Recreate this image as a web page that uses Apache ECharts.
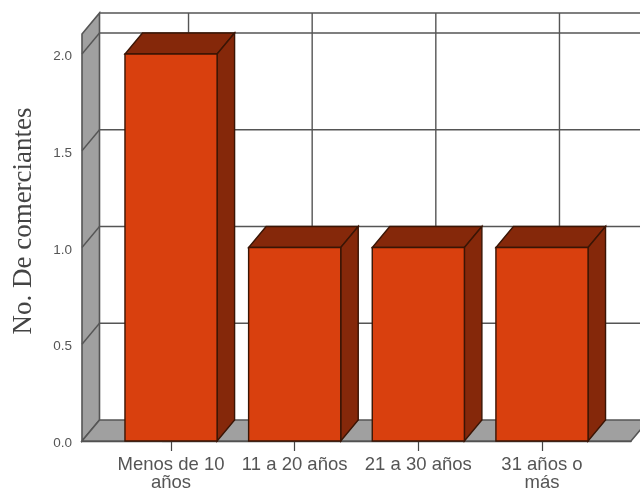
<!DOCTYPE html>
<html>
<head>
<meta charset="utf-8">
<style>html,body{margin:0;padding:0;background:#fff}#chart{width:640px;height:491px}</style>
<script src="https://cdn.jsdelivr.net/npm/echarts@6/dist/echarts.min.js"></script>
</head>
<body>
<div id="chart"></div>
<script>
const categories = ['Menos de 10\naños', '11 a 20 años', '21 a 30 años', '31 años o\nmás'];
const counts = [2, 1, 1, 1];
const yTicks = [0, 0.5, 1, 1.5, 2];
const xPositions = [0, 1, 2, 3];

// Extent of the value scale and of the category scale on the front plane
const yMax = 2.103;
const xMin = -0.72;
const xMax = 3.72;
const barWidth = 0.745;

// Screen offset of the back plane relative to the front plane
const depthX = 17.5;
const depthY = -21;

const wallLine = '#555555';
const wallFill = '#a0a0a0';
const barFront = '#d9400e';
const barShade = '#85280a';
const barEdge = '#3a1505';

function back(p) { return [p[0] + depthX, p[1] + depthY]; }

function poly(points, fill, stroke, width) {
  return { type: 'polygon', shape: { points: points },
    style: { fill: fill, stroke: stroke, lineWidth: width } };
}
function seg(a, b) {
  return { type: 'line', shape: { x1: a[0], y1: a[1], x2: b[0], y2: b[1] },
    style: { stroke: wallLine, lineWidth: 1.4, fill: null } };
}

// Back wall, side wall, floor and their grid lines
function renderFrame(params, api) {
  const bl = api.coord([xMin, 0]);
  const br = api.coord([xMax, 0]);
  const tl = api.coord([xMin, yMax]);
  const tr = api.coord([xMax, yMax]);
  const children = [
    poly([bl, back(bl), back(tl), tl], wallFill, wallLine, 1.6),
    poly([bl, br, back(br), back(bl)], wallFill, wallLine, 1.6),
    seg(back(tl), back(tr))
  ];
  yTicks.forEach(function (t) {
    if (t === 0) return;
    const a = api.coord([xMin, t]);
    const b = api.coord([xMax, t]);
    children.push(seg(a, back(a)));
    children.push(seg(back(a), back(b)));
  });
  xPositions.forEach(function (x) {
    children.push(seg(back(api.coord([x, 0])), back(api.coord([x, yMax]))));
  });
  return { type: 'group', children: children };
}

// One box per category: front face, top face and right-hand face
function renderBar(params, api) {
  const x = api.value(0);
  const v = api.value(1);
  const a = api.coord([x - barWidth / 2, 0]);
  const b = api.coord([x + barWidth / 2, 0]);
  const c = api.coord([x + barWidth / 2, v]);
  const d = api.coord([x - barWidth / 2, v]);
  return { type: 'group', children: [
    poly([d, c, back(c), back(d)], barShade, barEdge, 1.4),
    poly([b, back(b), back(c), c], barShade, barEdge, 1.4),
    poly([a, b, c, d], barFront, barEdge, 1.4)
  ] };
}

const chart = echarts.init(document.getElementById('chart'), null, { renderer: 'canvas' });
chart.setOption({
  animation: false,
  backgroundColor: '#ffffff',
  grid: { left: 82, right: 9, top: 34, bottom: 50, containLabel: false, outerBoundsMode: 'none' },
  xAxis: {
    type: 'value',
    min: xMin,
    max: xMax,
    splitLine: { show: false },
    axisLine: { show: true, onZero: false, lineStyle: { color: '#444444', width: 1.4 } },
    axisTick: { show: true, length: 10, customValues: xPositions, lineStyle: { color: '#444444', width: 1.2 } },
    axisLabel: {
      customValues: xPositions,
      formatter: function (v) { return categories[v]; },
      color: '#555555',
      fontFamily: 'Liberation Sans',
      fontSize: 18.5,
      lineHeight: 18,
      margin: 15
    }
  },
  yAxis: {
    type: 'value',
    min: 0,
    max: yMax,
    interval: 0.5,
    splitLine: { show: false },
    axisLine: { show: true, lineStyle: { color: '#444444', width: 1.4 } },
    axisTick: { show: true, length: 9, customValues: yTicks, lineStyle: { color: '#555555', width: 1.2 } },
    axisLabel: {
      customValues: yTicks,
      formatter: function (v) { return v.toFixed(1); },
      color: '#555555',
      fontFamily: 'Liberation Sans',
      fontSize: 13.5,
      margin: 10,
      verticalAlign: 'top',
      lineHeight: 5
    },
    name: 'No. De comerciantes',
    nameLocation: 'middle',
    nameGap: 45,
    nameRotate: 90,
    nameTextStyle: {
      color: '#444444',
      fontFamily: 'Liberation Serif',
      fontSize: 27,
      padding: [0, 0, 0, 33]
    }
  },
  series: [
    { type: 'custom', renderItem: renderFrame, data: [[0, 0]], silent: true, clip: false, z: 1 },
    {
      type: 'custom',
      renderItem: renderBar,
      encode: { x: 0, y: 1 },
      data: counts.map(function (v, i) { return [xPositions[i], v]; }),
      clip: false,
      z: 2
    }
  ]
});
</script>
</body>
</html>
